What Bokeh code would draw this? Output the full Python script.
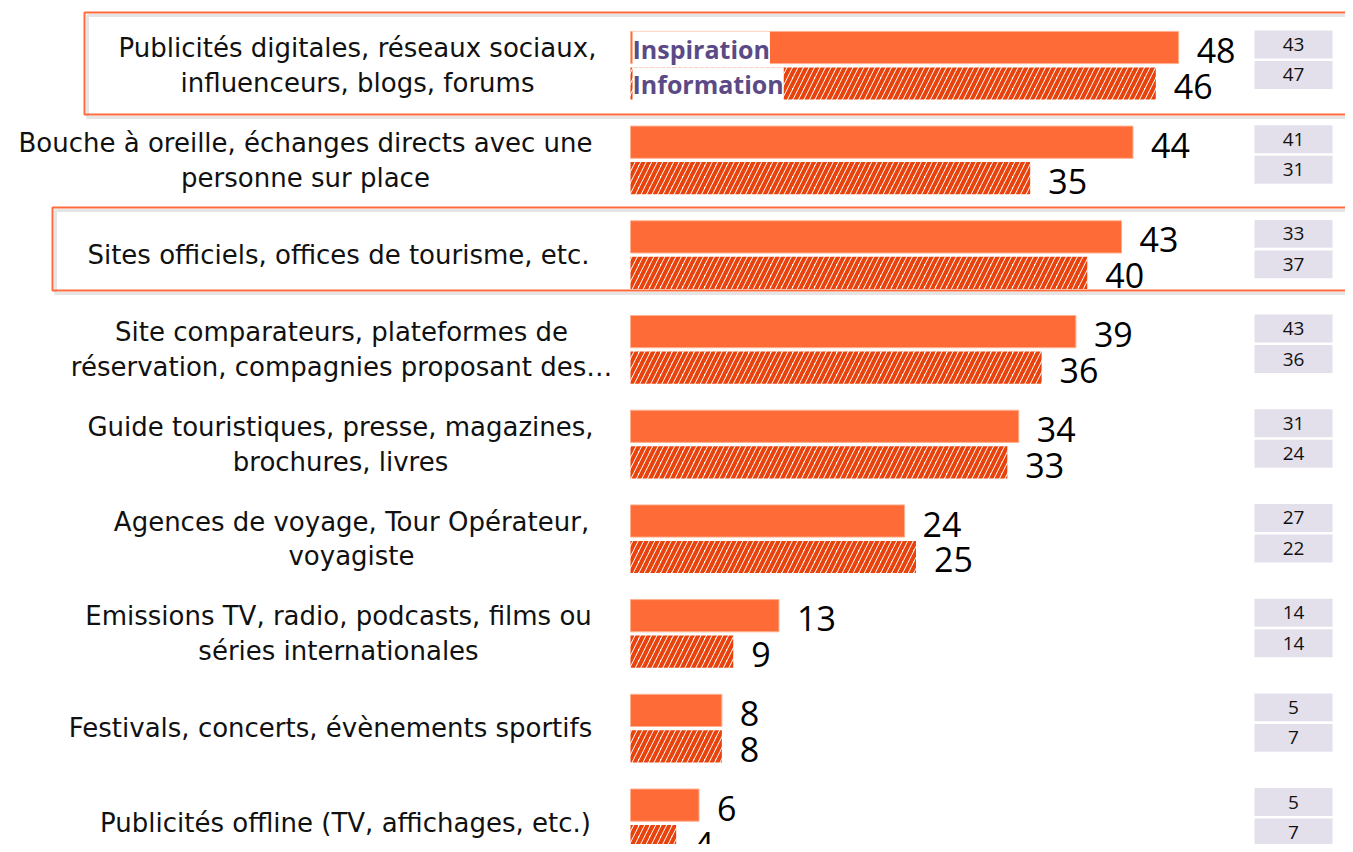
from bokeh.plotting import figure
from bokeh.models import Range1d, Label, ColumnDataSource
from bokeh.core.properties import value
from bokeh.embed import file_html
from bokeh.resources import INLINE

# ---------------- data ----------------
categories = [
    "Publicités digitales, réseaux sociaux,\ninfluenceurs, blogs, forums",
    "Bouche à oreille, échanges directs avec une\npersonne sur place",
    "Sites officiels, offices de tourisme, etc.",
    "Site comparateurs, plateformes de\nréservation, compagnies proposant des…",
    "Guide touristiques, presse, magazines,\nbrochures, livres",
    "Agences de voyage, Tour Opérateur,\nvoyagiste",
    "Emissions TV, radio, podcasts, films ou\nséries internationales",
    "Festivals, concerts, évènements sportifs",
    "Publicités offline (TV, affichages, etc.)",
]
inspiration = [48, 44, 43, 39, 34, 24, 13, 8, 6]
information = [46, 35, 40, 36, 33, 25, 9, 8, 4]
europe_inspiration = [43, 41, 33, 43, 31, 27, 14, 5, 5]
europe_information = [47, 31, 37, 36, 24, 22, 14, 7, 7]
series_names = ["Inspiration", "Information"]

# ---------------- layout ----------------
W, H = 1345, 844
OX, S = 630.0, 11.42      # px of zero, px per unit
Y0, P = 65.0, 94.7        # px of first row centre, px per row


def dx(px):
    return (px - OX) / S


def dy(px):
    return (px - Y0) / P


LABEL_CX = [357, 305, 338, 341, 340, 351, 338, 330, 345]

ORANGE = "#FF6B36"
HATCH = "#E8430C"
PURPLE = "#5B4A85"
FONT = "Open Sans"
CAT_FONT = "DejaVu Sans"

p = figure(width=W, height=H, output_backend="svg", toolbar_location=None,
           x_range=Range1d(dx(0), dx(W)), y_range=Range1d(dy(H), dy(0)),
           x_axis_location=None, y_axis_location=None, min_border=0,
           outline_line_color=None)
p.xgrid.visible = False
p.ygrid.visible = False
p.background_fill_color = "white"

idx = list(range(len(categories)))
src = ColumnDataSource(dict(
    y1=[i - 0.19 for i in idx], y2=[i + 0.19 for i in idx],
    insp=inspiration, info=information,
    insp_t=[str(v) for v in inspiration], info_t=[str(v) for v in information],
    eu1=[str(v) for v in europe_inspiration], eu2=[str(v) for v in europe_information],
    ey1=[i - 0.222 for i in idx], ey2=[i + 0.100 for i in idx],
    cat=categories, yc=idx, cx=[dx(c) for c in LABEL_CX],
))

# highlight frames (soft shadow + orange border)
frames = [(12, 114, 84), (207, 290, 52)]
for top, bot, left in frames:
    p.quad(left=dx(left + 3), right=dx(1420), top=dy(top + 3), bottom=dy(bot + 3),
           fill_color=None, line_color="#000000", line_alpha=0.10, line_width=3)
    p.quad(left=dx(left), right=dx(1420), top=dy(top), bottom=dy(bot),
           fill_color=None, line_color="#FF6B3D", line_width=2)

# bars
p.hbar(y="y1", left=0, right="insp", height=0.34, source=src,
       fill_color=ORANGE, line_color="#FFB08F", line_width=1)
p.hbar(y="y2", left=0, right="info", height=0.34, source=src,
       fill_color="white", hatch_pattern="right_diagonal_line", hatch_color=HATCH,
       hatch_weight=4, hatch_scale=11, line_color=None)

# value labels
p.text(x="insp", y="y1", text="insp_t", source=src, x_offset=18, y_offset=3,
       text_baseline="middle", text_align="left", text_font=value(FONT),
       text_font_size="34px", text_color="black")
p.text(x="info", y="y2", text="info_t", source=src, x_offset=18, y_offset=3,
       text_baseline="middle", text_align="left", text_font=value(FONT),
       text_font_size="34px", text_color="black")

# category labels
p.text(x="cx", y="yc", text="cat", source=src, text_align="center", text_baseline="middle",
       text_font=value(CAT_FONT), text_font_size="26px", text_color="#111111",
       text_line_height=1.16)

# Europe comparison boxes
bx, bw = dx(1293), 78 / S
p.rect(x=bx, y="ey1", width=bw, height=0.295, source=src, fill_color="#E4E0EB", line_color=None)
p.rect(x=bx, y="ey2", width=bw, height=0.295, source=src, fill_color="#E4E0EB", line_color=None)
p.text(x=bx, y="ey1", text="eu1", source=src, text_align="center", text_baseline="middle",
       text_font=value(FONT), text_font_size="19px", text_color="#111111")
p.text(x=bx, y="ey2", text="eu2", source=src, text_align="center", text_baseline="middle",
       text_font=value(FONT), text_font_size="19px", text_color="#111111")

# series labels on first row
for name, yy in zip(series_names, [-0.19, 0.19]):
    p.add_layout(Label(x=dx(632), y=yy, text=name, text_baseline="middle", text_align="left",
                       text_font=FONT, text_font_size="25px", text_font_style="bold",
                       text_color=PURPLE, background_fill_color="white", y_offset=-1))

open("out.html", "w").write(file_html(p, INLINE))
